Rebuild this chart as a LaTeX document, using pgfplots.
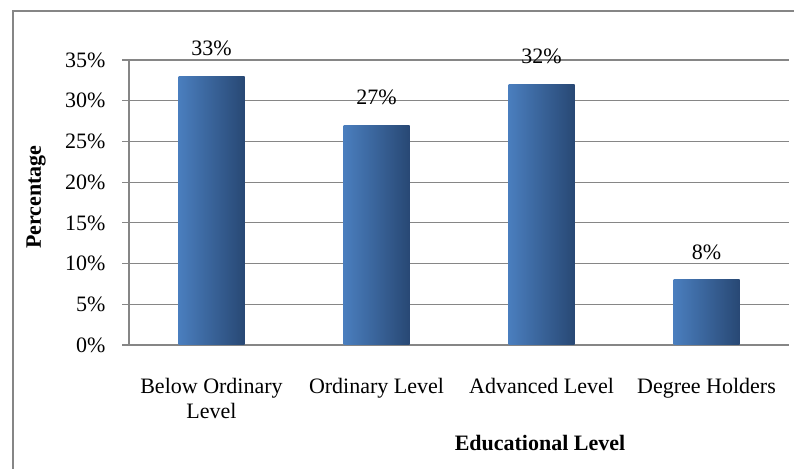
\documentclass[border=0pt]{standalone}
\usepackage{pgfplots}
\pgfplotsset{compat=1.18}
\usepackage{fontspec}
\setmainfont{Liberation Serif}
\definecolor{gridgray}{RGB}{134,134,134}
\definecolor{barL}{RGB}{74,126,190}
\definecolor{barR}{RGB}{40,72,116}
\begin{document}
\fontsize{22}{26}\selectfont
\begin{tikzpicture}[x=1pt,y=1pt]
\useasboundingbox (0,0) rectangle (794,468);
\fill[white] (0,0) rectangle (794,468);
\draw[gridgray, line width=1.6pt] (13,-10) -- (13,457) -- (810,457);
\begin{axis}[
  at={(129pt,123pt)}, anchor=south west,
  scale only axis, width=660pt, height=285pt,
  ybar, bar width=66pt, bar shift=0pt,
  xmin=-0.5, xmax=3.5, ymin=0, ymax=35,
  ytick={0,5,...,35},
  /pgf/number format/assume math mode=true,
  yticklabel={\pgfmathprintnumber{\tick}\%},
  xtick={0,1,2,3},
  xticklabels={{Below Ordinary\\Level}, Ordinary Level, Advanced Level, Degree Holders},
  xticklabel style={align=center, yshift=-19pt, font=\fontsize{22}{25}\selectfont},
  yticklabel style={font=\fontsize{22}{26}\selectfont, xshift=-9pt},
  x tick style={draw=none},
  y tick style={gridgray, line width=1.2pt},
  major tick length=7pt, tick align=outside,
  ymajorgrids, grid style={gridgray, line width=1.2pt},
  axis x line*=bottom, axis y line*=left,
  axis line style={gridgray, line width=1.4pt, -},
  nodes near coords={\pgfmathprintnumber{\pgfplotspointmeta}\%},
  every node near coord/.append style={font=\fontsize{22}{26}\selectfont, text=black, yshift=13pt},
  clip=false,
]
\addplot[draw=none, left color=barL, right color=barR] coordinates {(0,33)};
\addplot[draw=none, left color=barL, right color=barR] coordinates {(1,27)};
\addplot[draw=none, left color=barL, right color=barR] coordinates {(2,32)};
\addplot[draw=none, left color=barL, right color=barR] coordinates {(3,8)};
\end{axis}
\node[rotate=90, font=\bfseries] at (36,271) {Percentage};
\node[font=\bfseries] at (540,25) {Educational Level};
\end{tikzpicture}
\end{document}
